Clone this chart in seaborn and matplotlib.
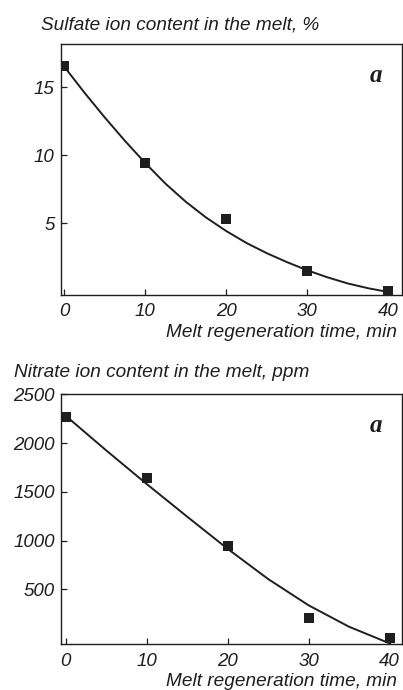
import matplotlib
matplotlib.use('Agg')
import numpy as np
import pandas as pd
import seaborn as sns
import matplotlib.pyplot as plt

# measured points
time_min = [0, 10, 20, 30, 40]
sulfate_pct = [16.6, 9.45, 5.3, 1.5, 0.0]
nitrate_ppm = [2270, 1640, 945, 210, 0]

# fitted curves
sulfate_curve_time = [0, 2.5, 5, 7.5, 10, 12.5, 15, 17.5, 20, 22.5, 25, 27.5, 30, 32.5, 35, 37.5, 40]
sulfate_curve_pct = [16.55, 14.63, 12.81, 11.08, 9.45, 7.93, 6.6, 5.44, 4.44, 3.56, 2.81, 2.15, 1.55, 1.03, 0.58, 0.23, -0.05]
nitrate_curve_time = [0, 5, 10, 15, 20, 25, 30, 35, 40]
nitrate_curve_ppm = [2280, 1925, 1580, 1245, 915, 605, 335, 115, -55]

sns.set_style('ticks')
plt.rcParams['font.family'] = ['Liberation Sans', 'DejaVu Sans']
plt.rcParams['font.style'] = 'italic'

ink = '#1e1e1e'
fig = plt.figure(figsize=(4.03, 6.90), dpi=100)
W, H = 403, 690

def panel(box, curve_x, curve_y, pts_y, ylim, xlim, yticks, title, title_xy, xlabel_y):
    ax = fig.add_axes(box)
    sns.lineplot(x=curve_x, y=curve_y, ax=ax, color=ink, linewidth=1.4, sort=False)
    sns.scatterplot(x=time_min, y=pts_y, ax=ax, marker='s', s=48, color=ink, linewidth=0, zorder=3)
    ax.set_xlim(*xlim)
    ax.set_ylim(*ylim)
    ax.set_xticks([0, 10, 20, 30, 40])
    ax.set_yticks(yticks)
    ax.tick_params(axis='both', direction='in', length=4, width=0.9, colors=ink, labelsize=13.5)
    ax.tick_params(axis='x', pad=6)
    ax.tick_params(axis='y', pad=4.5)
    for lab in ax.get_xticklabels() + ax.get_yticklabels():
        lab.set_fontstyle('italic')
    for sp in ax.spines.values():
        sp.set_visible(True)
        sp.set_color(ink)
        sp.set_linewidth(1.0)
    ax.set_xlabel('')
    ax.set_ylabel('')
    ax.text(0.925, 0.875, 'a', transform=ax.transAxes, ha='center', va='center',
            family=['Liberation Serif'], fontweight='bold', fontstyle='italic', fontsize=18, color=ink)
    fig.text(title_xy[0] / W, 1 - title_xy[1] / H, title, ha='left', va='baseline',
             fontsize=13.7, style='italic', color=ink)
    fig.text(397 / W, 1 - xlabel_y / H, 'Melt regeneration time, min', ha='right', va='baseline',
             fontsize=13.7, style='italic', color=ink)
    return ax

panel([61 / W, 1 - 295 / H, 340.7 / W, 251 / H], sulfate_curve_time, sulfate_curve_pct, sulfate_pct,
      (-0.27, 18.2), (-0.38, 41.66), [5, 10, 15],
      'Sulfate ion content in the melt, %', (41, 29.5), 337.5)
panel([61 / W, 1 - 644.3 / H, 340.7 / W, 250.3 / H], nitrate_curve_time, nitrate_curve_ppm, nitrate_ppm,
      (-65, 2505), (-0.6, 41.5), [500, 1000, 1500, 2000, 2500],
      'Nitrate ion content in the melt, ppm', (14, 376.7), 686)

fig.savefig('out.png', dpi=100)
